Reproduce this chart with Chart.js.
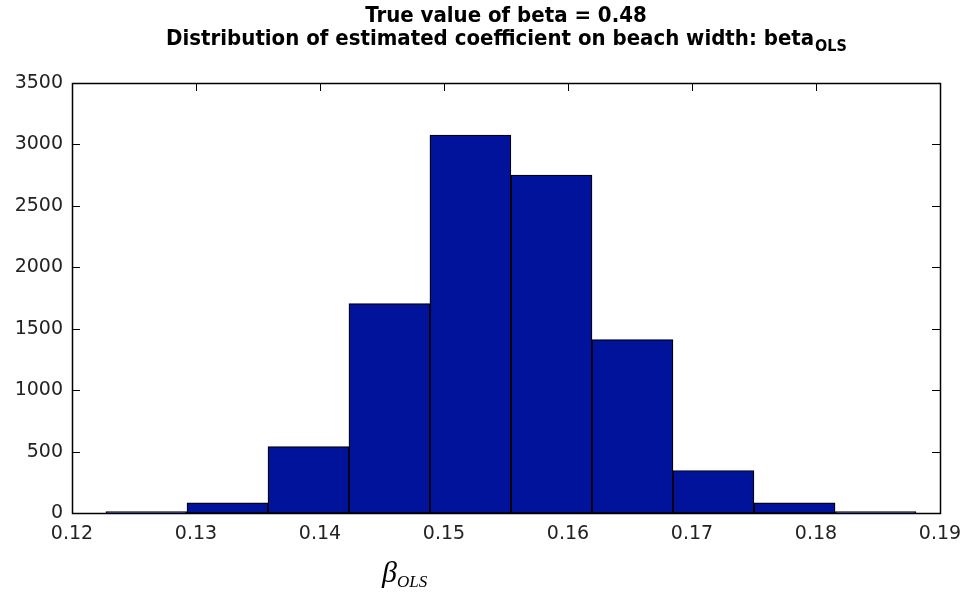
<!DOCTYPE html>
<html>
<head>
<meta charset="utf-8">
<script src="https://cdn.jsdelivr.net/npm/chart.js@4.4.1/dist/chart.umd.min.js"></script>
<style>
  html, body { margin: 0; padding: 0; background: #ffffff; }
  #wrap { position: relative; width: 966px; height: 599px; }
  canvas { display: block; }
</style>
</head>
<body>
<div id="wrap"><canvas id="c" width="966" height="599"></canvas></div>
<script>
// ---- data ----
const titleLine1 = "True value of beta = 0.48";
const titleLine2 = "Distribution of estimated coefficient on beach width: beta";
const titleSub = "OLS";
const xLabelMain = "\u03B2";
const xLabelSub = "OLS";
const binCenters = [0.12600, 0.13254, 0.13907, 0.14560, 0.15213, 0.15867, 0.16520, 0.17173, 0.17827, 0.18480];
const counts = [12, 83, 540, 1705, 3076, 2750, 1412, 346, 83, 12];
const xTicks = [0.12, 0.13, 0.14, 0.15, 0.16, 0.17, 0.18, 0.19];
const yTicks = [0, 500, 1000, 1500, 2000, 2500, 3000, 3500];

const tickFont = { family: "'DejaVu Sans', sans-serif", size: 19 };

const framePlugin = {
  id: 'frame',
  beforeDatasetsDraw(chart) {
    const { ctx, chartArea: a, scales } = chart;
    const tl = 8;
    ctx.save();
    ctx.strokeStyle = '#000';
    ctx.lineWidth = 1;
    ctx.beginPath();
    xTicks.forEach(v => {
      const px = Math.round(scales.x.getPixelForValue(v)) + 0.5;
      ctx.moveTo(px, a.bottom); ctx.lineTo(px, a.bottom - tl);
      ctx.moveTo(px, a.top); ctx.lineTo(px, a.top + tl);
    });
    yTicks.forEach(v => {
      const py = Math.round(scales.y.getPixelForValue(v)) + 0.5;
      ctx.moveTo(a.left, py); ctx.lineTo(a.left + tl, py);
      ctx.moveTo(a.right, py); ctx.lineTo(a.right - tl, py);
    });
    ctx.stroke();
    ctx.lineWidth = 1.5;
    ctx.strokeRect(Math.round(a.left) + 0.5, Math.round(a.top) + 0.5,
                   Math.round(a.right - a.left), Math.round(a.bottom - a.top));
    ctx.restore();
  },
  afterDraw(chart) {
    const { ctx, chartArea: a } = chart;
    ctx.save();
    ctx.fillStyle = '#000';
    ctx.textBaseline = 'alphabetic';
    // title, centred over the axes
    const tf = "bold 22px 'Liberation Sans Narrow', 'DejaVu Sans Condensed', sans-serif";
    const sf = "bold 16px 'Liberation Sans Narrow', 'DejaVu Sans Condensed', sans-serif";
    const cx = (a.left + a.right) / 2;
    ctx.font = tf;
    const w1 = ctx.measureText(titleLine1).width;
    ctx.fillText(titleLine1, cx - w1 / 2, 22);
    const w2 = ctx.measureText(titleLine2).width;
    ctx.font = sf;
    const ws = ctx.measureText(titleSub).width;
    const x2 = cx - (w2 + ws) / 2;
    ctx.font = tf;
    ctx.fillText(titleLine2, x2, 45);
    ctx.font = sf;
    ctx.fillText(titleSub, x2 + w2 + 1, 51);
    // x label
    const bf = "italic 30px 'Liberation Serif', serif";
    const bsf = "italic 17px 'Liberation Serif', serif";
    ctx.font = bf;
    const wb = ctx.measureText(xLabelMain).width;
    ctx.fillText(xLabelMain, 382, 582);
    ctx.font = bsf;
    ctx.fillText(xLabelSub, 382 + wb, 587);
    ctx.restore();
  }
};

new Chart(document.getElementById('c'), {
  type: 'bar',
  data: {
    datasets: [{
      data: binCenters.map((x, i) => ({ x: x, y: counts[i] })),
      backgroundColor: '#00139a',
      borderColor: '#000000',
      borderWidth: 1.2,
      borderSkipped: false,
      barPercentage: 1.0,
      categoryPercentage: 1.0
    }]
  },
  options: {
    responsive: false,
    animation: false,
    devicePixelRatio: 1,
    layout: { padding: { top: 83, right: 26, left: 0, bottom: 0 } },
    plugins: { legend: { display: false }, tooltip: { enabled: false }, title: { display: false } },
    scales: {
      x: {
        type: 'linear',
        min: 0.12, max: 0.19,
        offset: false,
        grid: { display: false, drawTicks: false },
        border: { display: false },
        afterBuildTicks(scale) { scale.ticks = xTicks.map(v => ({ value: v })); },
        afterFit(scale) { scale.height = 86; scale.paddingLeft = 0; scale.paddingRight = 0; },
        ticks: {
          padding: 10,
          color: '#222',
          font: tickFont,
          maxRotation: 0,
          autoSkip: false,
          callback: v => Number(v).toFixed(2)
        }
      },
      y: {
        min: 0, max: 3500,
        grid: { display: false, drawTicks: false },
        border: { display: false },
        afterBuildTicks(scale) { scale.ticks = yTicks.map(v => ({ value: v })); },
        afterFit(scale) { scale.width = 72; scale.paddingTop = 0; scale.paddingBottom = 0; },
        ticks: {
          padding: 9,
          color: '#222',
          font: tickFont,
          autoSkip: false,
          callback: v => String(v)
        }
      }
    }
  },
  plugins: [framePlugin]
});
</script>
</body>
</html>
